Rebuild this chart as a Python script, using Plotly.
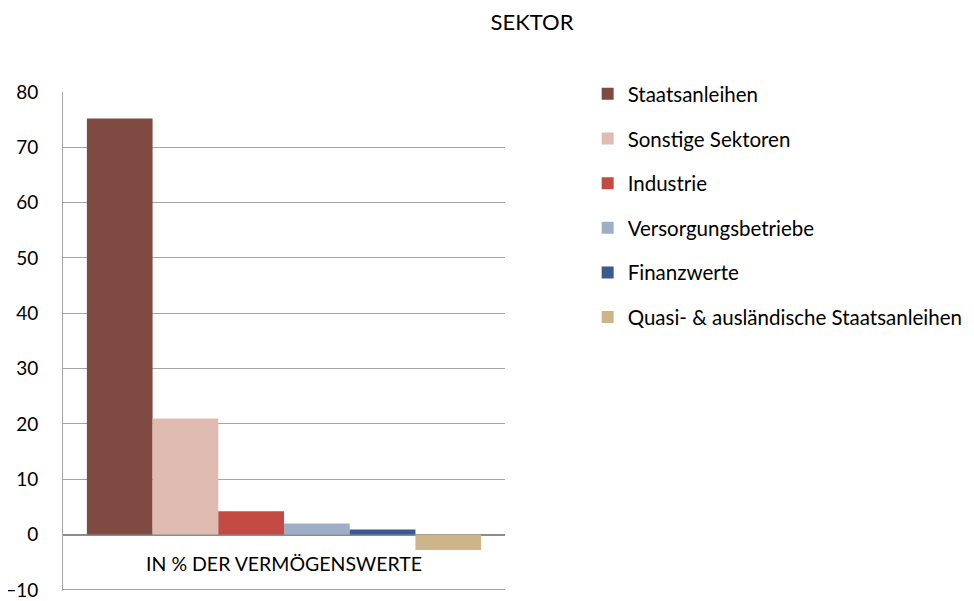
import plotly.graph_objects as go

category = ["IN % DER VERMÖGENSWERTE"]
series_names = ["Staatsanleihen", "Sonstige Sektoren", "Industrie",
                "Versorgungsbetriebe", "Finanzwerte",
                "Quasi- & ausländische Staatsanleihen"]
series_values = [75.2, 21.0, 4.2, 2.0, 0.9, -2.8]
series_colors = ["#7E4A41", "#E0BBB2", "#C44B43", "#9DAFC6", "#3B5A92", "#CDB48A"]
y_ticks = [-10, 0, 10, 20, 30, 40, 50, 60, 70, 80]

FONT = "Lato, 'Open Sans', sans-serif"
W, H = 958, 593
Y_MIN, Y_MAX = -10.2, 80

fig = go.Figure()
for i, (name, val, col) in enumerate(zip(series_names, series_values, series_colors)):
    fig.add_trace(go.Bar(x=category, y=[val], name=name, marker_color=col,
                         marker_line_width=0, legendgroup=f"g{i}"))

fig.update_layout(
    width=W, height=H,
    paper_bgcolor="white", plot_bgcolor="white",
    barmode="group", bargap=0.108, bargroupgap=0,
    margin=dict(l=55, r=461, t=84, b=10, autoexpand=False),
    font=dict(family=FONT, size=19, color="#000000"),
    title=dict(text="SEKTOR", x=(532 - 8) / W, xanchor="center", y=1 - 14 / H,
               yanchor="middle", font=dict(family=FONT, size=22, color="#000")),
    showlegend=True,
    legend=dict(x=1.187, xanchor="left", y=1.036, yanchor="top",
                font=dict(family=FONT, size=20.5, color="#000"),
                tracegroupgap=15, itemwidth=30, bgcolor="rgba(0,0,0,0)"),
    yaxis=dict(range=[Y_MIN, Y_MAX], tickvals=y_ticks, showgrid=True,
               gridcolor="#A6A6A6", gridwidth=1, zeroline=True,
               zerolinecolor="#8C8C8C", zerolinewidth=1.5,
               showline=True, linecolor="#A6A6A6", linewidth=1,
               ticks="", ticklabelstandoff=20, ticklabeloverflow="allow",
               tickfont=dict(family=FONT, size=19, color="#000")),
    xaxis=dict(anchor="free", position=-Y_MIN / (Y_MAX - Y_MIN), showline=False,
               showgrid=False, ticks="", ticklabelstandoff=16,
               tickfont=dict(family=FONT, size=19.5, color="#000")),
)

fig.write_html("out.html")
